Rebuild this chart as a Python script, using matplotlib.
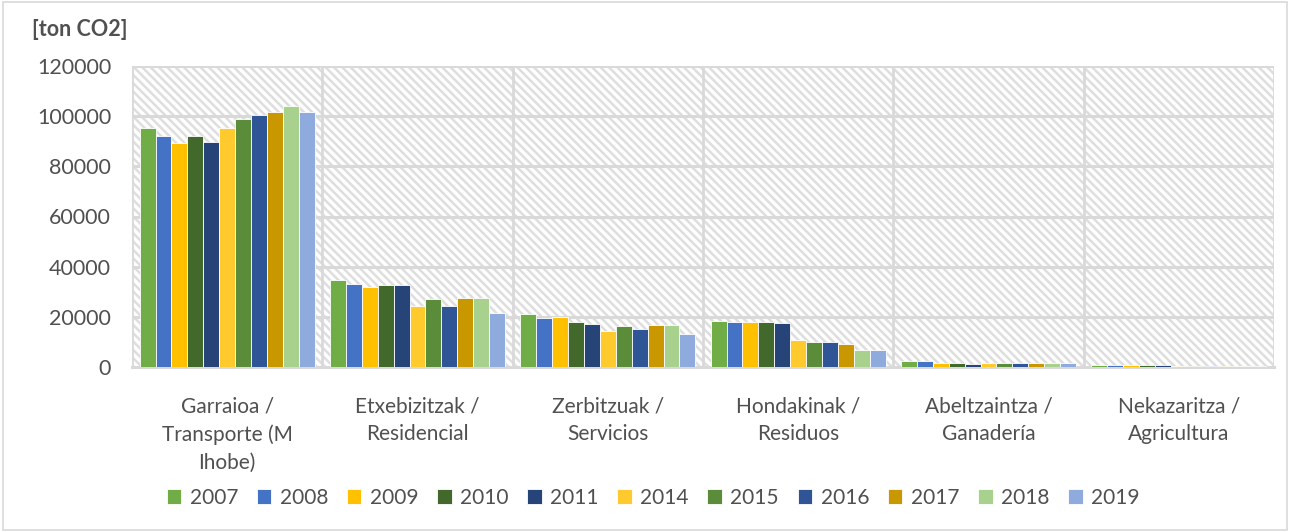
import numpy as np
import matplotlib
matplotlib.use("Agg")
import matplotlib.pyplot as plt
from matplotlib.patches import Rectangle

plt.rcParams["font.family"] = ["Lato", "DejaVu Sans"]
plt.rcParams["hatch.color"] = "#dedede"
plt.rcParams["hatch.linewidth"] = 1.8

categories = [
    "Garraioa /\nTransporte (M\nIhobe)",
    "Etxebizitzak /\nResidencial",
    "Zerbitzuak /\nServicios",
    "Hondakinak /\nResiduos",
    "Abeltzaintza /\nGanadería",
    "Nekazaritza /\nAgricultura",
]
years = ["2007", "2008", "2009", "2010", "2011", "2014", "2015", "2016", "2017", "2018", "2019"]
colors = ["#70AD47", "#4472C4", "#FFC000", "#43682B", "#264478", "#FFCA2E",
          "#5B8C3A", "#2F5597", "#C99800", "#A9D18E", "#8FAADC"]

# rows = category, columns = year
values = np.array([
    [95400, 92000, 89200, 92000, 89600, 95300, 98700, 100300, 101500, 104200, 101500],
    [34800, 33200, 31800, 32700, 32700, 24300, 27000, 24400, 27600, 27600, 21600],
    [21000, 19500, 20100, 17900, 17000, 14300, 16200, 15100, 16900, 16600, 13000],
    [18400, 18000, 17900, 17900, 17700, 10900, 9900, 9900, 9300, 6800, 6800],
    [2200, 2300, 1500, 1400, 1300, 1600, 1500, 1500, 1700, 1600, 1500],
    [800, 800, 800, 800, 800, 300, 300, 300, 300, 300, 300],
])

TXT = "#505050"

fig = plt.figure(figsize=(12.9, 5.32), dpi=100)
ax = fig.add_axes([132 / 1290, 1 - 367 / 532, (1274 - 132) / 1290, (367 - 66) / 532])

# figure border
fig.patches.append(Rectangle((0.002, 0.003), 0.996, 0.994, transform=fig.transFigure,
                             fill=False, edgecolor="#d9d9d9", linewidth=1.2))

# hatched plot area
ax.set_facecolor("white")
ax.add_patch(Rectangle((0, 0), 1, 1, transform=ax.transAxes, facecolor="white",
                       edgecolor="#dedede", hatch="\\\\\\\\", linewidth=0, zorder=0))

n_cat = len(categories)
n_yr = len(years)
slot = 0.92 / n_yr
x = np.arange(n_cat)
for j, (yr, col) in enumerate(zip(years, colors)):
    offs = -0.46 + slot * (j + 0.5)
    ax.bar(x + offs, values[:, j], width=slot, color=col, edgecolor="white",
           linewidth=0.6, label=yr, zorder=3)

ax.set_xlim(-0.5, n_cat - 0.5)
ax.set_ylim(0, 120000)
ax.set_yticks(np.arange(0, 120001, 20000))
ax.set_yticklabels([str(v) for v in range(0, 120001, 20000)], fontsize=15.5, color=TXT)
ax.tick_params(axis="y", length=0, pad=15)
ax.set_xticks(x)
ax.set_xticklabels(categories, fontsize=15, color=TXT, linespacing=1.5, va="top")
ax.tick_params(axis="x", length=0, pad=21)

for yv in range(20000, 120001, 20000):
    ax.axhline(yv, color="#d9d9d9", linewidth=2.2, zorder=1)
for xv in np.arange(-0.5, n_cat, 1.0):
    ax.axvline(xv, color="#d9d9d9", linewidth=2.0, zorder=1)

for s in ["top", "right", "left"]:
    ax.spines[s].set_visible(False)
ax.spines["bottom"].set_color("#d9d9d9")
ax.spines["bottom"].set_linewidth(2.2)
ax.spines["bottom"].set_zorder(2)

fig.text(32 / 1290, 1 - 30 / 532, "[ton CO2]", fontsize=15.5, fontweight="bold",
         color=TXT, va="center", ha="left")

fig.legend(loc="center", bbox_to_anchor=(653 / 1290, 1 - 498 / 532), ncol=n_yr,
           frameon=False, fontsize=15, handlelength=0.7, handleheight=0.7,
           handletextpad=0.4, columnspacing=0.9, labelcolor=TXT)

fig.savefig("out.png", dpi=100)
